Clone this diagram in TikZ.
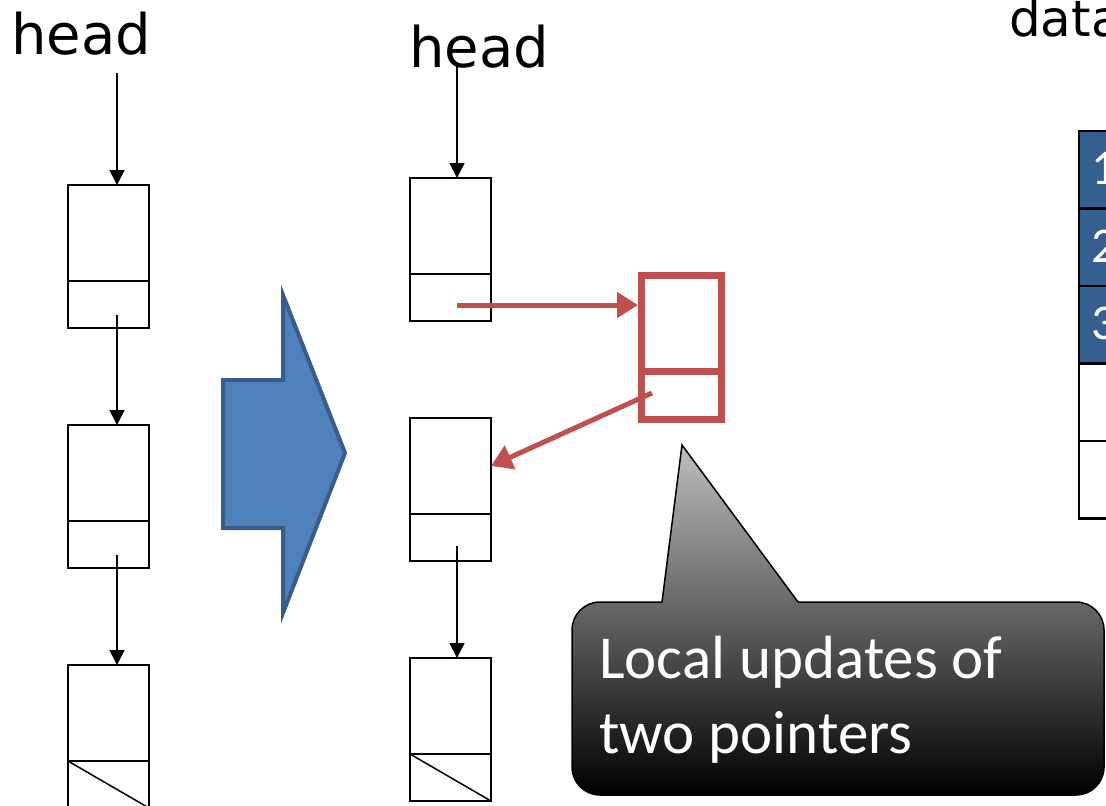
\documentclass[tikz,border=0pt]{standalone}
\usepackage{fontspec}
\usetikzlibrary{arrows.meta}
\newfontfamily\headfont{DejaVu Sans}
\newfontfamily\calfont{Carlito}
\definecolor{redc}{RGB}{192,80,77}
\definecolor{bluefill}{RGB}{79,129,189}
\definecolor{blueline}{RGB}{56,93,138}
\definecolor{tblue}{RGB}{54,95,145}
\definecolor{cgray}{RGB}{190,190,190}
\tikzset{
  cellbox/.style={draw, line width=1.5pt, minimum width=81pt, inner sep=0pt, outer sep=0pt, anchor=north west},
  datapart/.style={cellbox, minimum height=96pt},
  ptrpart/.style={cellbox, minimum height=47pt},
  redbox/.style={draw=redc, line width=7pt, minimum width=80pt, inner sep=0pt, anchor=north west},
  blk/.style={line width=1.5pt, -{Triangle[length=15pt,width=15pt]}},
  redarrow/.style={draw=redc, line width=5pt, -{Triangle[length=21pt,width=25pt]}},
  headlabel/.style={font=\headfont\fontsize{56}{60}\selectfont, inner sep=0pt, anchor=base west},
  tcell/.style={draw, line width=2.5pt, minimum width=300pt, minimum height=77.5pt, inner sep=0pt, outer sep=0pt, anchor=north west},
  digit/.style={font=\calfont\fontsize{50}{55}\selectfont, text=white, inner sep=0pt, anchor=west},
  calloutline/.style={draw=black, line width=1.5pt},
}
\begin{document}
\begin{tikzpicture}[x=1pt,y=-1pt]
\clip (0,0) rectangle (1106,806);
\fill[white] (0,0) rectangle (1106,806);

% labels
\node[headlabel] (headL) at (11,54) {head};
\node[headlabel] (headM) at (409,67) {head};
\node[font=\headfont\fontsize{50}{54}\selectfont, inner sep=0pt, anchor=base west] (data) at (1009,36) {data};

% left list
\node[datapart] (a1) at (68,185) {};
\node[ptrpart] (a1p) at (68,281) {};
\node[datapart] (a2) at (68,425) {};
\node[ptrpart] (a2p) at (68,521) {};
\node[datapart] (a3) at (68,665) {};
\node[ptrpart] (a3p) at (68,761) {};
\draw[line width=1.5pt] (a3p.north west) -- (a3p.south east);

\coordinate (hL) at (117,73);
\coordinate (pa1) at (117,315);
\coordinate (pa2) at (117,555);
\draw[blk] (hL) -- (hL |- a1.north);
\draw[blk] (pa1) -- (pa1 |- a2.north);
\draw[blk] (pa2) -- (pa2 |- a3.north);

% middle list
\node[datapart] (b1) at (410,178) {};
\node[ptrpart] (b1p) at (410,274) {};
\node[datapart] (b2) at (410,418) {};
\node[ptrpart] (b2p) at (410,514) {};
\node[datapart] (b3) at (410,658) {};
\node[ptrpart] (b3p) at (410,754) {};
\draw[line width=1.5pt] (b3p.north west) -- (b3p.south east);

\coordinate (hM) at (457,65);
\coordinate (pb2) at (457,546);
\draw[blk] (hM) -- (hM |- b1.north);
\draw[blk] (pb2) -- (pb2 |- b3.north);

% big blue arrow
\draw[fill=bluefill, draw=blueline, line width=4pt, line join=miter]
  (223,380) -- (283,380) -- (283,295) -- (345,453) -- (283,613) -- (283,528) -- (223,528) -- cycle;

% red new node
\node[redbox, minimum height=96pt] (r1) at (638,272) {};
\node[redbox, minimum height=48pt] (r1p) at (638,368) {};

\coordinate (pb1) at (457,305);
\coordinate (pr1) at (652,393);
\draw[redarrow] (pb1) -- (r1.west |- pb1);
\draw[redarrow] (pr1) -- (b2.east);

% table
\node[tcell, fill=tblue] (t1) at (1079,131) {};
\node[tcell, fill=tblue] (t2) at (1079,208.5) {};
\node[tcell, fill=tblue] (t3) at (1079,286) {};
\node[tcell] (t4) at (1079,363.5) {};
\node[tcell] (t5) at (1079,441) {};
\node[digit] (d1) at (1091,168) {1};
\node[digit] (d2) at (1091,246) {2};
\node[digit] (d3) at (1091,323) {3};

% callout
\shade[top color=cgray, bottom color=black]
  [rounded corners=28pt] (700,795) -- (572,795) -- (572,602) -- (620,602)
  [sharp corners] -- (662,602) -- (682,445) -- (798,602) -- (840,602)
  [rounded corners=28pt] -- (1104,602) -- (1104,795) -- cycle;
\draw[calloutline, rounded corners=28pt]
  (662,602) -- (572,602) -- (572,795) -- (1104,795) -- (1104,602) -- (798,602);
\draw[calloutline, line join=miter] (662,602) -- (682,445) -- (798,602);
\node[font=\calfont\fontsize{61}{75}\selectfont, text=white, align=left, inner sep=0pt, anchor=north west] (txt) at (599,636) {Local updates of\\two pointers};
\end{tikzpicture}
\end{document}
